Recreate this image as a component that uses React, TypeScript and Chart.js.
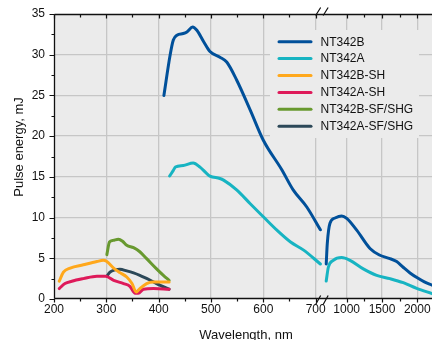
import { useEffect, useRef } from 'react';
import { Chart, registerables } from 'chart.js';

Chart.register(...registerables);

// ---- Data (wavelength nm, pulse energy mJ) ----
const NT342B_VIS_NM = [410, 422, 428, 435, 447, 454, 465, 473, 486, 498, 517, 530, 549, 575, 600, 635, 657, 683, 709];
const NT342B_VIS_MJ = [25.0, 30.0, 31.8, 32.4, 32.6, 32.8, 33.4, 33.0, 31.6, 30.4, 29.7, 29.1, 26.9, 23.2, 19.5, 15.9, 13.4, 11.3, 8.5];
const NT342B_IR_NM = [710, 725, 763, 834, 929, 1000, 1142, 1330, 1463, 1600, 1708, 1800, 1897, 2000, 2100, 2210];
const NT342B_IR_MJ = [4.3, 6.8, 9.3, 9.95, 10.2, 9.9, 8.45, 6.2, 5.4, 5.0, 4.6, 3.9, 3.2, 2.6, 2.1, 1.7];

const NT342A_VIS_NM = [421, 428, 432, 447, 466, 479, 492, 498, 517, 524, 549, 575, 600, 626, 652, 677, 709];
const NT342A_VIS_MJ = [15.1, 15.8, 16.2, 16.4, 16.7, 16.2, 15.4, 15.1, 14.8, 14.6, 13.4, 11.7, 10.1, 8.45, 7.0, 6.0, 4.3];
const NT342A_IR_NM = [710, 740, 810, 929, 1047, 1235, 1425, 1613, 1802, 1991, 2210];
const NT342A_IR_MJ = [2.2, 3.9, 4.75, 5.1, 4.75, 3.7, 2.9, 2.5, 2.0, 1.3, 0.66];

const NT342B_SH_NM = [210, 218, 231, 256, 282, 294, 301, 314, 326, 339, 349, 357, 364, 377, 390, 420];
const NT342B_SH_MJ = [2.18, 3.3, 3.8, 4.2, 4.6, 4.75, 4.6, 3.8, 3.24, 2.7, 1.9, 0.86, 1.28, 1.9, 2.1, 2.1];

const NT342A_SH_NM = [210, 221, 234, 256, 282, 299, 314, 333, 345, 355, 361, 371, 390, 420];
const NT342A_SH_MJ = [1.28, 1.9, 2.18, 2.5, 2.8, 2.8, 2.3, 1.9, 1.56, 0.7, 0.7, 1.2, 1.28, 1.2];

const NT342B_SF_NM = [301, 306, 313, 323, 331, 339, 352, 364, 377, 396, 409, 420];
const NT342B_SF_MJ = [5.45, 7.0, 7.2, 7.35, 7.1, 6.6, 6.3, 5.8, 4.96, 3.7, 2.9, 2.3];

const NT342A_SF_NM = [301, 307, 317, 326, 339, 352, 364, 384, 403, 420];
const NT342A_SF_MJ = [2.8, 3.3, 3.57, 3.65, 3.45, 3.2, 2.9, 2.3, 1.68, 1.2];

const SERIES_LABELS = ['NT342B', 'NT342A', 'NT342B-SH', 'NT342A-SH', 'NT342B-SF/SHG', 'NT342A-SF/SHG'];
const SERIES_COLORS = ['#00509a', '#17b4c2', '#ffa81c', '#de1a5a', '#68992f', '#2c4858'];

const X_TICKS_VIS = [200, 300, 400, 500, 600, 700];
const X_MINOR_VIS = [250, 350, 450, 550, 650];
const X_TICKS_IR = [1000, 1500, 2000];
const X_MINOR_IR = [1250, 1750];
const Y_TICKS = [0, 5, 10, 15, 20, 25, 30, 35];

// ---- Broken axis mapping (visible segment: 1:1, IR segment compressed) ----
const IR_REF_NM = 1000;
const IR_REF_V = 759.3;
const IR_RATIO = 0.1349;
const X_MIN_V = 200;
const X_MAX_V = 922.3;
const vVis = (nm: number) => nm;
const vIR = (nm: number) => IR_REF_V + (nm - IR_REF_NM) * IR_RATIO;

const pts = (nm: number[], mj: number[], f: (n: number) => number) =>
  nm.map((n, i) => ({ x: f(n), y: mj[i] }));

const FONT = "'Liberation Sans', Arial, Helvetica, sans-serif";
const PLOT_BG = '#ebebeb';
const GRID = '#c6c6c6';

const tickLabelMap: Record<string, string> = {};
X_TICKS_VIS.forEach((n) => (tickLabelMap[vVis(n).toFixed(2)] = String(n)));
X_TICKS_IR.forEach((n) => (tickLabelMap[vIR(n).toFixed(2)] = String(n)));

export default function App() {
  const ref = useRef<HTMLCanvasElement | null>(null);

  useEffect(() => {
    document.body.style.margin = '0';
    const canvas = ref.current;
    if (!canvas) return;

    const gap = { x: 718.8, y: null as any };
    const split = (vn: number[], vm: number[], irn?: number[], irm?: number[]) => {
      const a = pts(vn, vm, vVis);
      if (irn && irm) return [...a, gap, ...pts(irn, irm, vIR)];
      return a;
    };
    const seriesData = [
      split(NT342B_VIS_NM, NT342B_VIS_MJ, NT342B_IR_NM, NT342B_IR_MJ),
      split(NT342A_VIS_NM, NT342A_VIS_MJ, NT342A_IR_NM, NT342A_IR_MJ),
      split(NT342B_SH_NM, NT342B_SH_MJ),
      split(NT342A_SH_NM, NT342A_SH_MJ),
      split(NT342B_SF_NM, NT342B_SF_MJ),
      split(NT342A_SF_NM, NT342A_SF_MJ),
    ];

    const decor = {
      id: 'decor',
      beforeDraw(chart: any) {
        const { ctx, chartArea: a } = chart;
        ctx.save();
        ctx.fillStyle = PLOT_BG;
        ctx.fillRect(a.left, a.top, a.right - a.left, a.bottom - a.top);
        ctx.restore();
      },
      beforeDatasetsDraw(chart: any) {
        const { ctx } = chart;
        ctx.save();
        ctx.fillStyle = PLOT_BG;
        ctx.fillRect(270, 30, 149, 108);
        ctx.restore();
      },
      afterDraw(chart: any) {
        const { ctx, chartArea: a, scales } = chart;
        const xs = scales.x;
        const ys = scales.y;
        const L = Math.round(a.left) + 0.5;
        const T = Math.round(a.top) + 0.5;
        const B = Math.round(a.bottom) - 0.5;
        const R = a.right;
        ctx.save();
        ctx.strokeStyle = '#111';
        ctx.lineWidth = 1.3;
        ctx.beginPath();
        ctx.moveTo(L, T);
        ctx.lineTo(R, T);
        ctx.moveTo(L, T);
        ctx.lineTo(L, B);
        ctx.moveTo(L, B);
        ctx.lineTo(R, B);
        ctx.stroke();
        // ticks
        ctx.lineWidth = 1.2;
        ctx.beginPath();
        const xTick = (v: number, len: number) => {
          const px = Math.round(xs.getPixelForValue(v)) + 0.5;
          ctx.moveTo(px, B);
          ctx.lineTo(px, B + len);
          ctx.moveTo(px, T);
          ctx.lineTo(px, T + len);
        };
        X_TICKS_VIS.forEach((n) => xTick(vVis(n), 4));
        X_MINOR_VIS.forEach((n) => xTick(vVis(n), 3));
        X_TICKS_IR.forEach((n) => xTick(vIR(n), 4));
        X_MINOR_IR.forEach((n) => xTick(vIR(n), 3));
        Y_TICKS.forEach((t) => {
          const py = Math.round(ys.getPixelForValue(t)) + 0.5;
          ctx.moveTo(L, py);
          ctx.lineTo(L - 5, py);
          if (t < 35) {
            const pm = Math.round(ys.getPixelForValue(t + 2.5)) + 0.5;
            ctx.moveTo(L, pm);
            ctx.lineTo(L - 3, pm);
          }
        });
        ctx.stroke();
        // axis break marks
        const bx = xs.getPixelForValue(vVis(700));
        ctx.lineWidth = 1.2;
        [bx + 2.5, bx + 10].forEach((cx) => {
          ctx.beginPath();
          ctx.moveTo(cx - 2.5, B + 6);
          ctx.lineTo(cx + 2.5, B - 3);
          ctx.moveTo(cx - 2.5, T + 1);
          ctx.lineTo(cx + 2.5, T - 7);
          ctx.stroke();
        });
        // axis titles
        ctx.fillStyle = '#111';
        ctx.font = `13px ${FONT}`;
        ctx.textAlign = 'center';
        ctx.textBaseline = 'alphabetic';
        ctx.fillText('Wavelength, nm', 246, 339);
        ctx.save();
        ctx.translate(23, 147);
        ctx.rotate(-Math.PI / 2);
        ctx.fillText('Pulse energy, mJ', 0, 0);
        ctx.restore();
        // legend
        ctx.font = `12px ${FONT}`;
        ctx.textAlign = 'left';
        ctx.textBaseline = 'middle';
        chart.data.datasets.forEach((ds: any, i: number) => {
          const y = 41.7 + i * 16.9;
          ctx.strokeStyle = ds.borderColor;
          ctx.lineWidth = 3;
          ctx.lineCap = 'round';
          ctx.beginPath();
          ctx.moveTo(279, y);
          ctx.lineTo(311, y);
          ctx.stroke();
          ctx.fillStyle = '#111';
          ctx.fillText(ds.label, 320.5, y + 0.5);
        });
        ctx.restore();
      },
    };

    const chart = new Chart(canvas, {
      type: 'line',
      data: {
        datasets: seriesData.map((d, i) => ({
          label: SERIES_LABELS[i],
          data: d,
          borderColor: SERIES_COLORS[i],
          backgroundColor: SERIES_COLORS[i],
          borderWidth: 3,
          pointRadius: 0,
          cubicInterpolationMode: 'monotone',
          spanGaps: false,
          borderCapStyle: 'round',
          borderJoinStyle: 'round',
        })),
      },
      options: {
        responsive: false,
        animation: false,
        devicePixelRatio: 1,
        layout: { padding: { top: 14, right: 0, left: 0, bottom: 0 } },
        plugins: { legend: { display: false }, tooltip: { enabled: false } },
        scales: {
          x: {
            type: 'linear',
            min: X_MIN_V,
            max: X_MAX_V,
            afterBuildTicks: (scale: any) => {
              scale.ticks = [...X_TICKS_VIS.map(vVis), ...X_TICKS_IR.map(vIR)].map((v) => ({ value: v }));
            },
            afterFit: (scale: any) => {
              scale.height = 41;
              scale.paddingLeft = 0;
              scale.paddingRight = 0;
            },
            ticks: {
              autoSkip: false,
              maxRotation: 0,
              padding: 3,
              color: '#111',
              font: { size: 12, family: FONT },
              callback: (v: any) => tickLabelMap[Number(v).toFixed(2)] ?? '',
            },
            grid: {
              drawTicks: false,
              lineWidth: 1.3,
              color: (c: any) => (c.tick && Math.abs(c.tick.value - X_MIN_V) < 0.01 ? 'rgba(0,0,0,0)' : GRID),
            },
            border: { display: false },
          },
          y: {
            type: 'linear',
            min: 0,
            max: 35,
            afterFit: (scale: any) => {
              scale.width = 54;
              scale.paddingTop = 0;
              scale.paddingBottom = 0;
            },
            ticks: {
              stepSize: 5,
              padding: 9,
              color: '#111',
              font: { size: 12, family: FONT },
            },
            grid: {
              drawTicks: false,
              lineWidth: 1.3,
              color: (c: any) => (c.tick && (c.tick.value === 0 || c.tick.value === 35) ? 'rgba(0,0,0,0)' : GRID),
            },
            border: { display: false },
          },
        },
      },
      plugins: [decor],
    } as any);

    return () => chart.destroy();
  }, []);

  return <canvas ref={ref} width={432} height={340} style={{ display: 'block', width: 432, height: 340 }} />;
}
